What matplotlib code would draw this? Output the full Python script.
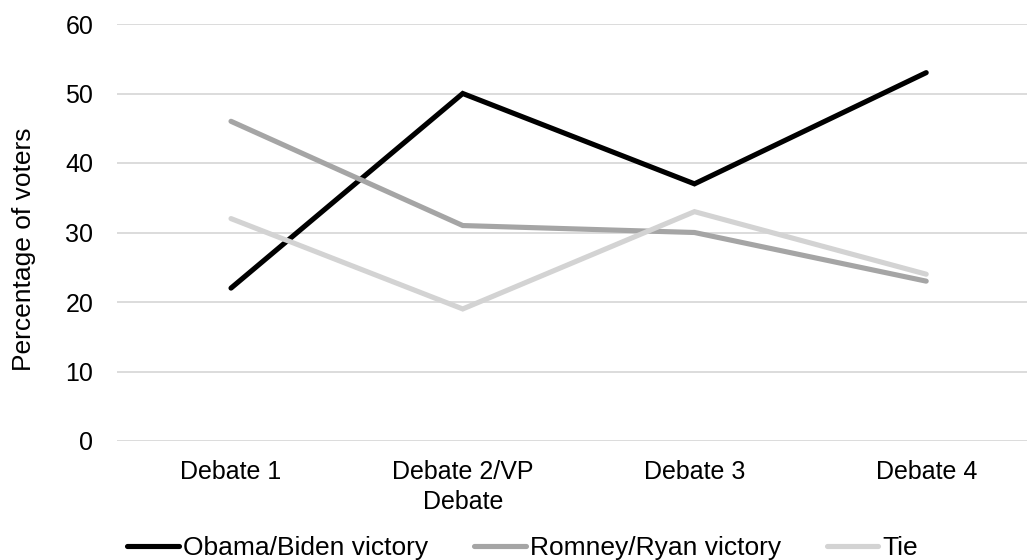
import matplotlib
matplotlib.use("Agg")
import matplotlib.pyplot as plt

debates = ["Debate 1", "Debate 2/VP\nDebate", "Debate 3", "Debate 4"]
obama_biden = [22, 50, 37, 53]
romney_ryan = [46, 31, 30, 23]
tie = [32, 19, 33, 24]
series_names = ["Obama/Biden victory", "Romney/Ryan victory", "Tie"]
y_ticks = [0, 10, 20, 30, 40, 50, 60]

plt.rcParams["font.family"] = ["Liberation Sans", "DejaVu Sans"]
FS = 18
FS_BIG = 19

W, H = 1027, 560
fig = plt.figure(figsize=(W / 100, H / 100), dpi=100)
left, right, top, bottom = 117, 1027, 24, 441
ax = fig.add_axes([left / W, 1 - bottom / H, (right - left) / W, (bottom - top) / H])

x = list(range(len(debates)))
colors = ["#000000", "#A5A5A5", "#D3D3D3"]
for vals, name, c in zip([obama_biden, romney_ryan, tie], series_names, colors):
    ax.plot(x, vals, color=c, lw=3.7, label=name, solid_joinstyle="miter",
            solid_capstyle="round", zorder=3)

ax.set_ylim(0, 60)
ax.set_yticks(y_ticks)
ax.set_xlim(-0.492, 3.435)
ax.set_xticks(x)
ax.set_xticklabels(debates, fontsize=FS, linespacing=1.3)
ax.tick_params(axis="y", labelsize=FS, length=0, pad=17)
ax.tick_params(axis="x", length=0, pad=14)
ax.grid(axis="y", color="#D9D9D9", lw=1.3)
ax.set_axisbelow(True)
for s in ax.spines.values():
    s.set_visible(False)
ax.set_ylabel("Percentage of voters", fontsize=FS_BIG)
ax.yaxis.set_label_coords((36 - left) / (right - left), (bottom - 249) / (bottom - top))

fig.legend(loc="center", bbox_to_anchor=(0.509, 1 - 548 / H), ncol=3, frameon=False,
           fontsize=FS_BIG, handlelength=1.95, handletextpad=0.15, columnspacing=1.75,
           borderpad=0)

fig.savefig("out.png", dpi=100)
